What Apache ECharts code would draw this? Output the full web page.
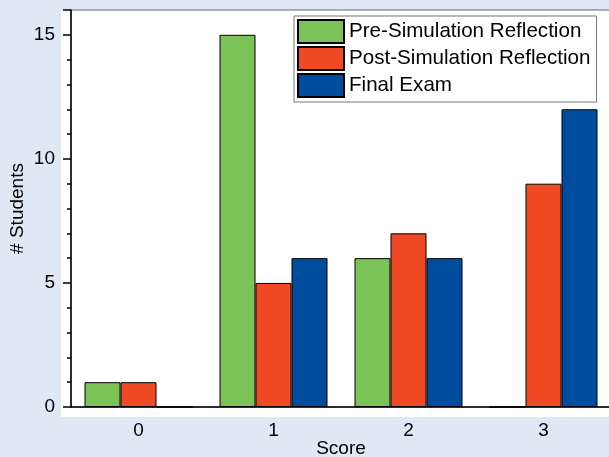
<!DOCTYPE html>
<html>
<head>
<meta charset="utf-8">
<script src="https://cdn.jsdelivr.net/npm/echarts@6/dist/echarts.min.js"></script>
<style>html,body{margin:0;padding:0;background:#DEE9F5;}#c{width:609px;height:457px;}</style>
</head>
<body>
<div id="c"></div>
<script>
const categories = ['0', '1', '2', '3'];
const preSim = [1, 15, 6, 0];
const postSim = [1, 5, 7, 9];
const finalExam = [0, 6, 6, 12];
const seriesNames = ['Pre-Simulation Reflection', 'Post-Simulation Reflection', 'Final Exam'];
const colors = ['#7BC257', '#F04A24', '#004DA0'];

const chart = echarts.init(document.getElementById('c'), null, {renderer: 'canvas'});
const font = 'Liberation Sans, Arial, Helvetica, sans-serif';
const mk = (name, data, color) => ({
  name, type: 'bar', data, xAxisIndex: 0,
  barGap: '0%', barCategoryGap: '20%',
  itemStyle: {color, borderColor: '#000', borderWidth: 1},
  emphasis: {disabled: true}
});
chart.setOption({
  backgroundColor: '#DEE9F5',
  animation: false,
  textStyle: {fontFamily: font},
  graphic: [{type: 'rect', left: 61, top: 10, shape: {width: 560, height: 407}, style: {fill: '#FFFFFF'}, z: -10}],
  grid: {left: 71, top: 10, right: -2, bottom: 50, show: true, borderColor: '#666', borderWidth: 1,
         backgroundColor: 'transparent', containLabel: false, outerBoundsMode: 'none'},
  legend: {
    orient: 'vertical', left: 294, top: 16, icon: 'rect',
    itemWidth: 46, itemHeight: 23, itemGap: 2,
    padding: [3, 6, 4, 3],
    backgroundColor: '#fff', borderColor: '#777', borderWidth: 1,
    textStyle: {fontSize: 20.6, color: '#000', fontFamily: font},
    data: seriesNames
  },
  xAxis: [{
    type: 'category', data: categories, position: 'bottom',
    name: 'Score', nameLocation: 'middle', nameGap: 32, nameMoveOverlap: false,
    nameTextStyle: {fontSize: 19, color: '#000', fontFamily: font},
    axisLine: {lineStyle: {color: '#000', width: 1.5}},
    axisTick: {alignWithLabel: true, length: 7, lineStyle: {color: '#000', width: 1.5}},
    axisLabel: {fontSize: 19, color: '#000', margin: 14, fontFamily: font}
  }, {
    type: 'category', data: categories, position: 'bottom',
    axisLine: {show: false},
    axisTick: {alignWithLabel: false, length: 4, lineStyle: {color: '#000', width: 1.5}},
    axisLabel: {show: false}
  }],
  yAxis: {
    type: 'value', min: 0, max: 16, interval: 5,
    name: '# Students', nameLocation: 'middle', nameGap: 44, nameMoveOverlap: false,
    nameTextStyle: {fontSize: 19, color: '#000', fontFamily: font},
    axisLine: {show: true, lineStyle: {color: '#000', width: 1.5}},
    axisTick: {show: true, length: 8, lineStyle: {color: '#000', width: 1.5}},
    minorTick: {show: true, splitNumber: 5, length: 4, lineStyle: {color: '#000', width: 1.5}},
    axisLabel: {fontSize: 19, color: '#000', margin: 16, fontFamily: font, showMaxLabel: false},
    splitLine: {show: false}
  },
  series: [
    mk(seriesNames[0], preSim, colors[0]),
    mk(seriesNames[1], postSim, colors[1]),
    mk(seriesNames[2], finalExam, colors[2])
  ]
});
</script>
</body>
</html>
